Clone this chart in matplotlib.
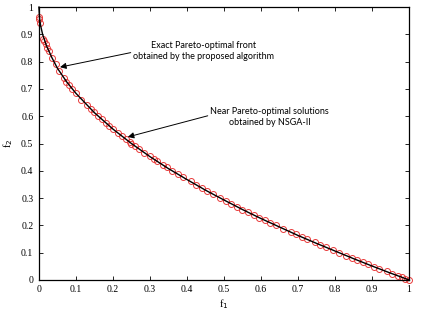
import matplotlib
matplotlib.use('Agg')
import matplotlib.pyplot as plt

# exact front
front_f1 = [0.0, 0.002, 0.005, 0.01, 0.02, 0.035, 0.05, 0.075, 0.1, 0.15, 0.2, 0.25,
            0.3, 0.35, 0.4, 0.45, 0.5, 0.55, 0.6, 0.65, 0.7, 0.75, 0.8, 0.85, 0.9, 0.95, 1.0]
front_f2 = [1.0, 0.955, 0.93, 0.90, 0.86, 0.815, 0.776, 0.726, 0.684, 0.613, 0.553, 0.50,
            0.452, 0.408, 0.368, 0.329, 0.293, 0.258, 0.225, 0.194, 0.163, 0.134, 0.106, 0.078, 0.051, 0.025, 0.0]

# NSGA-II solutions
nsga_f1 = [0.0, 0.001, 0.003, 0.012, 0.015, 0.018, 0.022, 0.027, 0.035, 0.045, 0.055, 0.068,
           0.074, 0.082, 0.09, 0.1, 0.115, 0.13, 0.14, 0.15, 0.16, 0.17, 0.18, 0.19, 0.2,
           0.215, 0.225, 0.235, 0.245, 0.25, 0.26, 0.27, 0.285, 0.3, 0.31, 0.32, 0.335, 0.345,
           0.36, 0.375, 0.39, 0.41, 0.425, 0.44, 0.455, 0.47, 0.49, 0.505, 0.52, 0.535, 0.55,
           0.565, 0.58, 0.595, 0.61, 0.625, 0.64, 0.66, 0.68, 0.695, 0.71, 0.725, 0.745, 0.76,
           0.775, 0.795, 0.81, 0.83, 0.845, 0.86, 0.875, 0.89, 0.905, 0.92, 0.94, 0.955, 0.97,
           0.98, 0.99, 1.0]
nsga_f2 = [0.965, 0.955, 0.94, 0.885, 0.875, 0.865, 0.852, 0.838, 0.815, 0.79, 0.766, 0.74,
           0.727, 0.713, 0.70, 0.685, 0.66, 0.64, 0.626, 0.614, 0.601, 0.589, 0.577, 0.565, 0.554,
           0.537, 0.527, 0.516, 0.506, 0.50, 0.49, 0.481, 0.467, 0.453, 0.444, 0.435, 0.422, 0.414,
           0.401, 0.389, 0.377, 0.361, 0.349, 0.337, 0.326, 0.315, 0.30, 0.289, 0.279, 0.268, 0.258,
           0.248, 0.238, 0.228, 0.219, 0.209, 0.20, 0.188, 0.176, 0.167, 0.158, 0.149, 0.138, 0.129,
           0.12, 0.108, 0.1, 0.089, 0.081, 0.073, 0.065, 0.057, 0.049, 0.041, 0.031, 0.023, 0.015,
           0.01, 0.005, 0.0]

plt.rcParams['font.family'] = 'Liberation Serif'

fig = plt.figure(figsize=(4.23, 3.1), dpi=100)
ax = fig.add_axes([0.092, 0.097, 0.875, 0.88])

ax.plot(nsga_f1, nsga_f2, 'o', mfc='none', mec='#e83a3a', ms=4.3, mew=0.7, clip_on=False)
ax.plot(front_f1, front_f2, color='black', lw=1.0, clip_on=False)

ax.set_xlim(0, 1)
ax.set_ylim(0, 1)
ticks = [0, 0.1, 0.2, 0.3, 0.4, 0.5, 0.6, 0.7, 0.8, 0.9, 1]
labels = ['0', '0.1', '0.2', '0.3', '0.4', '0.5', '0.6', '0.7', '0.8', '0.9', '1']
ax.set_xticks(ticks)
ax.set_xticklabels(labels)
ax.set_yticks(ticks)
ax.set_yticklabels(labels)
ax.tick_params(direction='in', top=True, right=True, labelsize=7, length=3, width=0.6, pad=4)
for s in ax.spines.values():
    s.set_linewidth(0.9)

ax.set_xlabel('f$_1$', fontsize=7.5, labelpad=2)
ax.set_ylabel('f$_2$', fontsize=7.5, labelpad=4)

ax.annotate('Exact Pareto-optimal front\nobtained by the proposed algorithm',
            xy=(0.057, 0.78), xytext=(0.446, 0.839), ha='center', va='center',
            fontsize=6.5, family='Lato', linespacing=1.3,
            arrowprops=dict(arrowstyle='-|>', color='black', lw=0.7, mutation_scale=9,
                            shrinkA=0, shrinkB=0, relpos=(0.0, 0.45)))
ax.annotate('Near Pareto-optimal solutions\nobtained by NSGA-II',
            xy=(0.24, 0.524), xytext=(0.624, 0.597), ha='center', va='center',
            fontsize=6.5, family='Lato', linespacing=1.3,
            arrowprops=dict(arrowstyle='-|>', color='black', lw=0.7, mutation_scale=9,
                            shrinkA=0, shrinkB=0, relpos=(0.0, 0.6)))

fig.savefig('out.png', dpi=100)
